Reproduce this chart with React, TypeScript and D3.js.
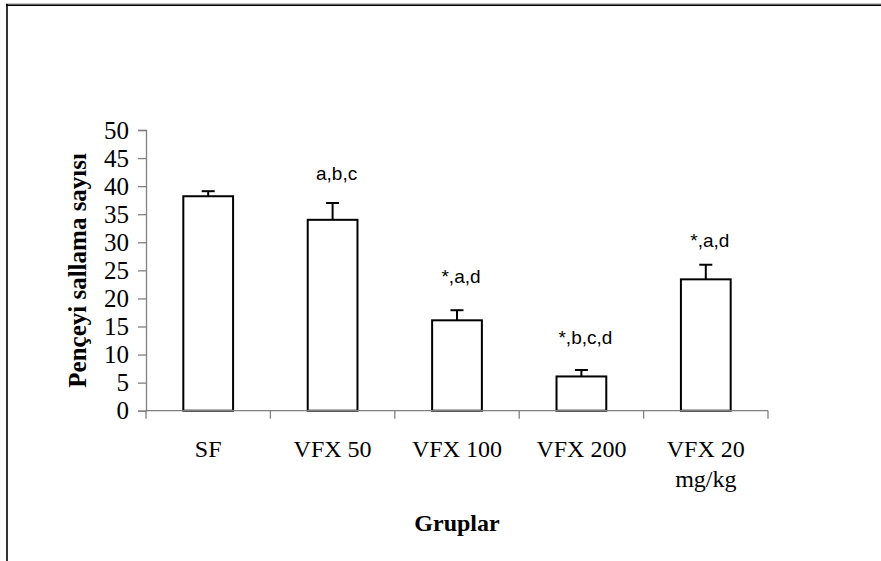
import React, { useEffect, useRef } from 'react';
import * as d3 from 'd3';

const groups = ['SF', 'VFX 50', 'VFX 100', 'VFX 200', 'VFX 20 mg/kg'];
const groupLabels = [['SF'], ['VFX 50'], ['VFX 100'], ['VFX 200'], ['VFX 20', 'mg/kg']];
const means = [38.2, 34.0, 16.1, 6.1, 23.4];
const errors = [0.9, 3.0, 1.8, 1.15, 2.6];
const marks = ['', 'a,b,c', '*,a,d', '*,b,c,d', '*,a,d'];
// height (in y units) where each significance note sits
const markLevels = [0, 41.1, 22.7, 11.9, 29.2];
const yTicks = [0, 5, 10, 15, 20, 25, 30, 35, 40, 45, 50];

const App = () => {
  const width = 881;
  const height = 561;
  const left = 146;
  const right = 768;
  const top = 130;
  const bottom = 410.7;
  const serif = "Liberation Serif, Times New Roman, serif";
  const sans = "Liberation Sans, Arial, sans-serif";
  const axisGrey = '#808080';

  const yAxisRef = useRef<SVGGElement>(null);

  const xScale = d3
    .scaleBand()
    .domain(groups)
    .range([left, right])
    .paddingInner(0.6)
    .paddingOuter(0.3);
  const step = xScale.step();

  const yScale = d3.scaleLinear().domain([0, 50]).range([bottom, top]);

  useEffect(() => {
    const yAxis = d3.axisLeft(yScale).tickValues(yTicks).tickSize(8).tickPadding(9);
    const g = d3.select(yAxisRef.current);
    g.call(yAxis);
    g.attr('font-family', serif).attr('font-size', 25);
    g.select('.domain').attr('stroke', axisGrey).attr('stroke-width', 1.3);
    g.selectAll('.tick line').attr('stroke', axisGrey).attr('stroke-width', 1.3);
    g.selectAll('.tick text').attr('fill', '#000');
  }, []);

  const boundaries = d3.range(groups.length + 1).map(i => left + i * step);

  return (
    <svg
      width={width}
      height={height}
      viewBox={`0 0 ${width} ${height}`}
      style={{ position: 'absolute', left: 0, top: 0, background: '#fff' }}
    >
      {/* frame */}
      <line x1={6} y1={4} x2={width} y2={4} stroke='#888' strokeWidth='1' />
      <line x1={6} y1={5.3} x2={width} y2={5.3} stroke='#000' strokeWidth='1.6' />
      <line x1={7} y1={4} x2={7} y2={height} stroke='#000' strokeWidth='1.6' />

      {/* bars */}
      {groups.map((g, i) => (
        <rect
          key={`bar-${i}`}
          x={xScale(g)}
          y={yScale(means[i])}
          width={xScale.bandwidth()}
          height={bottom - yScale(means[i])}
          fill='#fff'
          stroke='#000'
          strokeWidth='2'
        />
      ))}

      {/* error bars */}
      {groups.map((g, i) => {
        const cx = (xScale(g) || 0) + xScale.bandwidth() / 2;
        return (
          <g key={`err-${i}`} stroke='#000' strokeWidth='2'>
            <line x1={cx} x2={cx} y1={yScale(means[i])} y2={yScale(means[i] + errors[i])} />
            <line x1={cx - 6.5} x2={cx + 6.5} y1={yScale(means[i] + errors[i])} y2={yScale(means[i] + errors[i])} />
          </g>
        );
      })}

      {/* x axis */}
      <line x1={left} x2={right} y1={bottom} y2={bottom} stroke={axisGrey} strokeWidth='1.3' />
      {boundaries.map((x, i) => (
        <line key={`xt-${i}`} x1={x} x2={x} y1={bottom} y2={bottom + 8} stroke={axisGrey} strokeWidth='1.3' />
      ))}
      <g ref={yAxisRef} transform={`translate(${left}, 0)`} />

      {/* group labels */}
      {groups.map((g, i) => (
        <text
          key={`xl-${i}`}
          x={(xScale(g) || 0) + xScale.bandwidth() / 2}
          y={457}
          textAnchor='middle'
          fontFamily={serif}
          fontSize='24px'
        >
          {groupLabels[i].map((line, j) => (
            <tspan key={j} x={(xScale(g) || 0) + xScale.bandwidth() / 2} dy={j === 0 ? 0 : 30}>
              {line}
            </tspan>
          ))}
        </text>
      ))}

      {/* significance marks */}
      {groups.map((g, i) =>
        marks[i] ? (
          <text
            key={`mk-${i}`}
            x={(xScale(g) || 0) + xScale.bandwidth() / 2 + 4}
            y={yScale(markLevels[i])}
            textAnchor='middle'
            fontFamily={sans}
            fontSize='19px'
          >
            {marks[i]}
          </text>
        ) : null
      )}

      {/* axis titles */}
      <text
        transform={`translate(86, ${(top + bottom) / 2}) rotate(-90)`}
        textAnchor='middle'
        fontFamily={serif}
        fontWeight='bold'
        fontSize='25px'
      >
        Pençeyi sallama sayısı
      </text>
      <text x={457} y={531} textAnchor='middle' fontFamily={serif} fontWeight='bold' fontSize='24px'>
        Gruplar
      </text>
    </svg>
  );
};

export default App;
